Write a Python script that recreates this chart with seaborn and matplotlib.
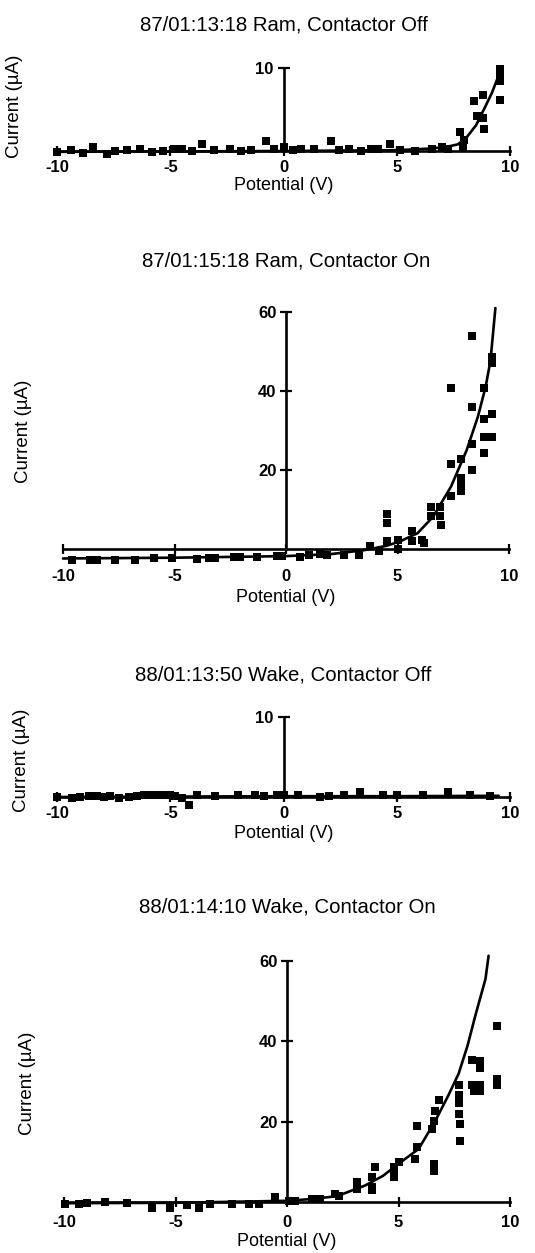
import numpy as np
import pandas as pd
import matplotlib
matplotlib.use("Agg")
import matplotlib.pyplot as plt
import seaborn as sns

# ---------------- data ----------------
titles = ["87/01:13:18 Ram, Contactor Off", "87/01:15:18 Ram, Contactor On",
          "88/01:13:50 Wake, Contactor Off", "88/01:14:10 Wake, Contactor On"]
x_ticks = [-10, -5, 0, 5, 10]
x_tick_labels = ["-10", "-5", "0", "5", "10"]
y_ticks_off = [10]
y_ticks_on = [20, 40, 60]
x_label = "Potential (V)"
y_label = "Current (\u00b5A)"

# Panel 1: Ram, contactor off
ram_off_x = [-10.0, -9.36, -8.85, -8.4, -7.81, -7.44, -6.92, -6.33, -5.81, -5.3,
             -4.85, -4.48, -4.04, -3.6, -3.08, -2.34, -1.89, -1.45, -0.78, -0.41,
             0.03, 0.4, 0.77, 1.36, 2.1, 2.47, 2.91, 3.43, 3.88, 4.17,
             4.69, 5.13, 5.8, 6.54, 6.98, 7.28,
             7.78, 7.99, 7.92, 8.43, 8.79, 8.54, 8.82, 8.85, 9.54, 9.58, 9.54, 9.54]
ram_off_y = [-0.1, 0.1, -0.2, 0.5, -0.4, 0.0, 0.1, 0.3, -0.1, 0.0,
             0.2, 0.3, 0.0, 0.9, 0.1, 0.2, 0.0, 0.1, 1.2, 0.2,
             0.5, 0.1, 0.3, 0.2, 1.2, 0.1, 0.3, 0.0, 0.2, 0.3,
             0.8, 0.1, 0.0, 0.2, 0.5, 0.3,
             2.3, 1.3, 0.4, 6.0, 6.75, 4.2, 4.0, 2.7, 6.2, 9.9, 9.1, 8.4]
ram_off_fit_x = [-10, -5, 0, 5, 6.5, 7.2, 7.7, 8.1, 8.5, 8.9, 9.2, 9.6]
ram_off_fit_y = [-0.1, -0.05, 0.0, 0.1, 0.3, 0.5, 0.8, 1.7, 3.1, 5.3, 7.0, 9.8]

# Panel 2: Ram, contactor on
ram_on_x = [-9.6, -8.78, -8.48, -7.66, -6.76, -5.94, -5.12, -3.99, -3.47, -3.17,
            -2.35, -2.08, -1.3, -0.4, -0.18, 0.64, 1.02, 1.54, 1.84, 2.59,
            3.26, 3.78, 4.16,
            4.53, 4.53, 4.53, 5.04, 5.04, 5.64, 5.64, 6.08, 6.2, 6.52, 6.9,
            6.52, 6.9, 6.97, 7.41, 7.41, 7.41, 7.86, 7.86, 7.86, 7.86,
            8.34, 8.34, 8.34, 8.34, 8.89, 8.89, 8.89, 8.89, 9.26, 9.26, 9.26, 9.26]
ram_on_y = [-2.9, -2.7, -2.7, -2.7, -2.7, -2.4, -2.4, -2.5, -2.3, -2.3,
            -2.1, -2.1, -2.0, -1.7, -1.8, -1.9, -1.4, -1.2, -1.4, -1.4,
            -1.4, 0.8, -0.6,
            8.9, 6.6, 2.0, 2.4, 0.0, 4.5, 2.0, 2.4, 1.5, 10.6, 10.6,
            8.3, 8.3, 6.2, 13.4, 21.6, 40.7, 22.7, 18.0, 16.4, 14.7,
            53.9, 36.0, 26.5, 20.0, 40.7, 32.9, 28.3, 24.4, 48.6, 47.2, 34.3, 28.3]
ram_on_fit_x = [-10, -5, 0, 2, 3.5, 4.5, 5.1, 5.9, 6.6, 7.4, 8.1, 8.6, 8.95, 9.17, 9.39]
ram_on_fit_y = [-2.4, -2.2, -1.8, -1.3, -0.3, 0.8, 1.9, 4.0, 8.2, 15.8, 25.0, 33.4, 41.0, 47.7, 61.0]

# Panel 3: Wake, contactor off
wake_off_x = [-10.0, -9.34, -8.97, -8.6, -8.24, -7.94, -7.65, -7.28, -6.84, -6.47,
              -6.18, -5.96, -5.59, -5.29, -5.0, -4.78, -4.49, -4.19, -3.82, -3.01,
              -1.99, -1.25, -0.88, -0.29, 0.0, 0.66, 1.62, 1.99, 2.65, 3.38,
              4.41, 5.0, 6.18, 7.28, 8.24, 9.12]
wake_off_y = [0.0, -0.1, 0.0, 0.1, 0.1, 0.0, 0.1, -0.1, 0.0, 0.1,
              0.2, 0.3, 0.2, 0.3, 0.2, 0.1, -0.1, -1.0, 0.2, 0.1,
              0.2, 0.3, 0.1, 0.3, 0.2, 0.2, 0.0, 0.1, 0.2, 0.6,
              0.2, 0.2, 0.3, 0.6, 0.2, 0.1]
wake_off_fit_x = [-10, -5, 0, 5, 9.5]
wake_off_fit_y = [0.0, 0.05, 0.1, 0.1, 0.15]

# Panel 4: Wake, contactor on
wake_on_x = [-9.94, -9.34, -8.97, -8.15, -7.17, -6.05, -5.23, -4.48, -3.96, -3.44,
             -2.47, -1.72, -1.27, -0.52, 0.07, 0.37, 1.12, 1.49, 2.17, 2.32,
             3.14, 3.14, 3.81, 3.81, 3.96, 3.81, 4.78, 4.78, 4.78, 5.0,
             5.75, 5.83, 5.83, 6.58, 6.58, 6.5, 6.58, 6.65, 6.8,
             7.7, 7.7, 7.7, 7.7, 7.77, 7.77, 8.3, 8.3, 8.37,
             8.67, 8.67, 8.67, 8.67, 9.42, 9.42, 9.42]
wake_on_y = [-0.4, -0.6, -0.3, 0.0, -0.2, -1.6, -1.6, -0.8, -1.4, -0.6,
             -0.6, -0.4, -0.4, 1.2, 0.3, 0.3, 0.8, 0.8, 2.1, 1.6,
             3.3, 4.9, 3.7, 6.2, 8.6, 2.9, 6.2, 7.8, 8.6, 9.9,
             10.7, 13.6, 19.0, 7.8, 9.5, 18.1, 20.2, 22.6, 25.5,
             29.2, 26.7, 24.7, 21.8, 19.3, 15.2, 35.4, 29.2, 27.6,
             35.0, 33.3, 29.2, 27.6, 43.9, 30.5, 29.2]
wake_on_fit_x = [-10, -5, 0, 1, 2, 2.5, 3.5, 4.3, 5, 5.9, 6.65, 7.25, 7.7, 8.1, 8.45, 8.9, 9.04]
wake_on_fit_y = [-0.3, -0.2, 0.3, 0.7, 1.3, 2.0, 4.1, 6.5, 9.5, 13.2, 20.2, 26.7, 32.0, 39.0, 46.5, 55.5, 61.3]

# ---------------- style ----------------
sns.set_theme(style="white")
plt.rcParams["font.family"] = ["Liberation Sans", "DejaVu Sans"]
plt.rcParams["axes.unicode_minus"] = False
for key in ["text.color", "axes.labelcolor", "xtick.color", "ytick.color", "axes.edgecolor"]:
    plt.rcParams[key] = "black"

W, H = 535, 1253
fig = plt.figure(figsize=(W / 100, H / 100), dpi=100)
fig.patch.set_facecolor("white")


def fx(px):
    return px / W


def fy(py):
    return 1 - py / H


def place(x_m10, x_10, y_0, y_top, top_val, ylo, yhi, xlo=-10.8, xhi=10.8):
    ppx = (x_10 - x_m10) / 20.0
    left = x_m10 + (xlo + 10) * ppx
    right = x_m10 + (xhi + 10) * ppx
    ppy = (y_0 - y_top) / top_val
    top_px = y_0 - yhi * ppy
    bot_px = y_0 - ylo * ppy
    ax = fig.add_axes([fx(left), fy(bot_px), (right - left) / W, (bot_px - top_px) / H])
    ax.set_xlim(xlo, xhi)
    ax.set_ylim(ylo, yhi)
    return ax


panels = [
    dict(geo=(57, 510, 151, 68, 10, -1.5, 11), title_y=25, pad=3, xl_y=186, yl_x=15, yl_y=106,
         xs=ram_off_x, ys=ram_off_y, fxs=ram_off_fit_x, fys=ram_off_fit_y, yt=y_ticks_off),
    dict(geo=(63, 509, 549, 312, 60, -6, 63), title_y=261, pad=11, xl_y=598, yl_x=24, yl_y=431,
         xs=ram_on_x, ys=ram_on_y, fxs=ram_on_fit_x, fys=ram_on_fit_y, yt=y_ticks_on),
    dict(geo=(57, 510, 797, 717, 10, -1.5, 11), title_y=675, pad=3, xl_y=833, yl_x=22, yl_y=760,
         xs=wake_off_x, ys=wake_off_y, fxs=wake_off_fit_x, fys=wake_off_fit_y, yt=y_ticks_off),
    dict(geo=(64, 510, 1202, 961, 60, -4, 63), title_y=907, pad=6, xl_y=1241, yl_x=28, yl_y=1083,
         xs=wake_on_x, ys=wake_on_y, fxs=wake_on_fit_x, fys=wake_on_fit_y, yt=y_ticks_on),
]

for i, p in enumerate(panels):
    ax = place(*p["geo"])
    ax.set_facecolor("none")
    df = pd.DataFrame({"Potential": p["xs"], "Current": p["ys"]})
    fit = pd.DataFrame({"Potential": p["fxs"], "Current": p["fys"]})
    sns.lineplot(data=fit, x="Potential", y="Current", color="black", linewidth=1.9,
                 estimator=None, sort=False, ax=ax, clip_on=False)
    sns.scatterplot(data=df, x="Potential", y="Current", marker="s", s=28, color="black",
                    edgecolor="black", linewidth=0, ax=ax, clip_on=False, zorder=3)

    for s in ["top", "right"]:
        ax.spines[s].set_visible(False)
    ax.spines["left"].set_position(("data", 0))
    ax.spines["bottom"].set_position(("data", 0))
    ax.spines["left"].set_bounds(0, p["yt"][-1])
    ax.spines["bottom"].set_bounds(-10, 10)
    for s in ["left", "bottom"]:
        ax.spines[s].set_linewidth(1.9)
        ax.spines[s].set_color("black")

    ax.set_xticks(x_ticks)
    ax.set_xticklabels(x_tick_labels)
    ax.set_yticks(p["yt"])
    ax.set_yticklabels([str(v) for v in p["yt"]])
    ax.tick_params(axis="x", direction="inout", length=7, width=1.6, colors="black",
                   labelsize=12, pad=p["pad"], bottom=True)
    ax.tick_params(axis="y", direction="inout", length=8, width=1.6, colors="black",
                   labelsize=12, pad=3, left=True)
    for lab in ax.get_xticklabels() + ax.get_yticklabels():
        lab.set_fontweight("bold")

    ax.set_xlabel(x_label, fontsize=13)
    ax.xaxis.label.set_va("center")
    ax.xaxis.set_label_coords(fx(p["geo"][0] + (p["geo"][1] - p["geo"][0]) / 2), fy(p["xl_y"]),
                              transform=fig.transFigure)
    ax.set_ylabel(y_label, fontsize=13.5)
    ax.yaxis.label.set_va("center")
    ax.yaxis.set_label_coords(fx(p["yl_x"]), fy(p["yl_y"]), transform=fig.transFigure)

    fig.text(fx(p["geo"][0] + (p["geo"][1] - p["geo"][0]) / 2), fy(p["title_y"]), titles[i],
             ha="center", va="center", fontsize=14.7)

fig.savefig("out.png", dpi=100, facecolor="white")
